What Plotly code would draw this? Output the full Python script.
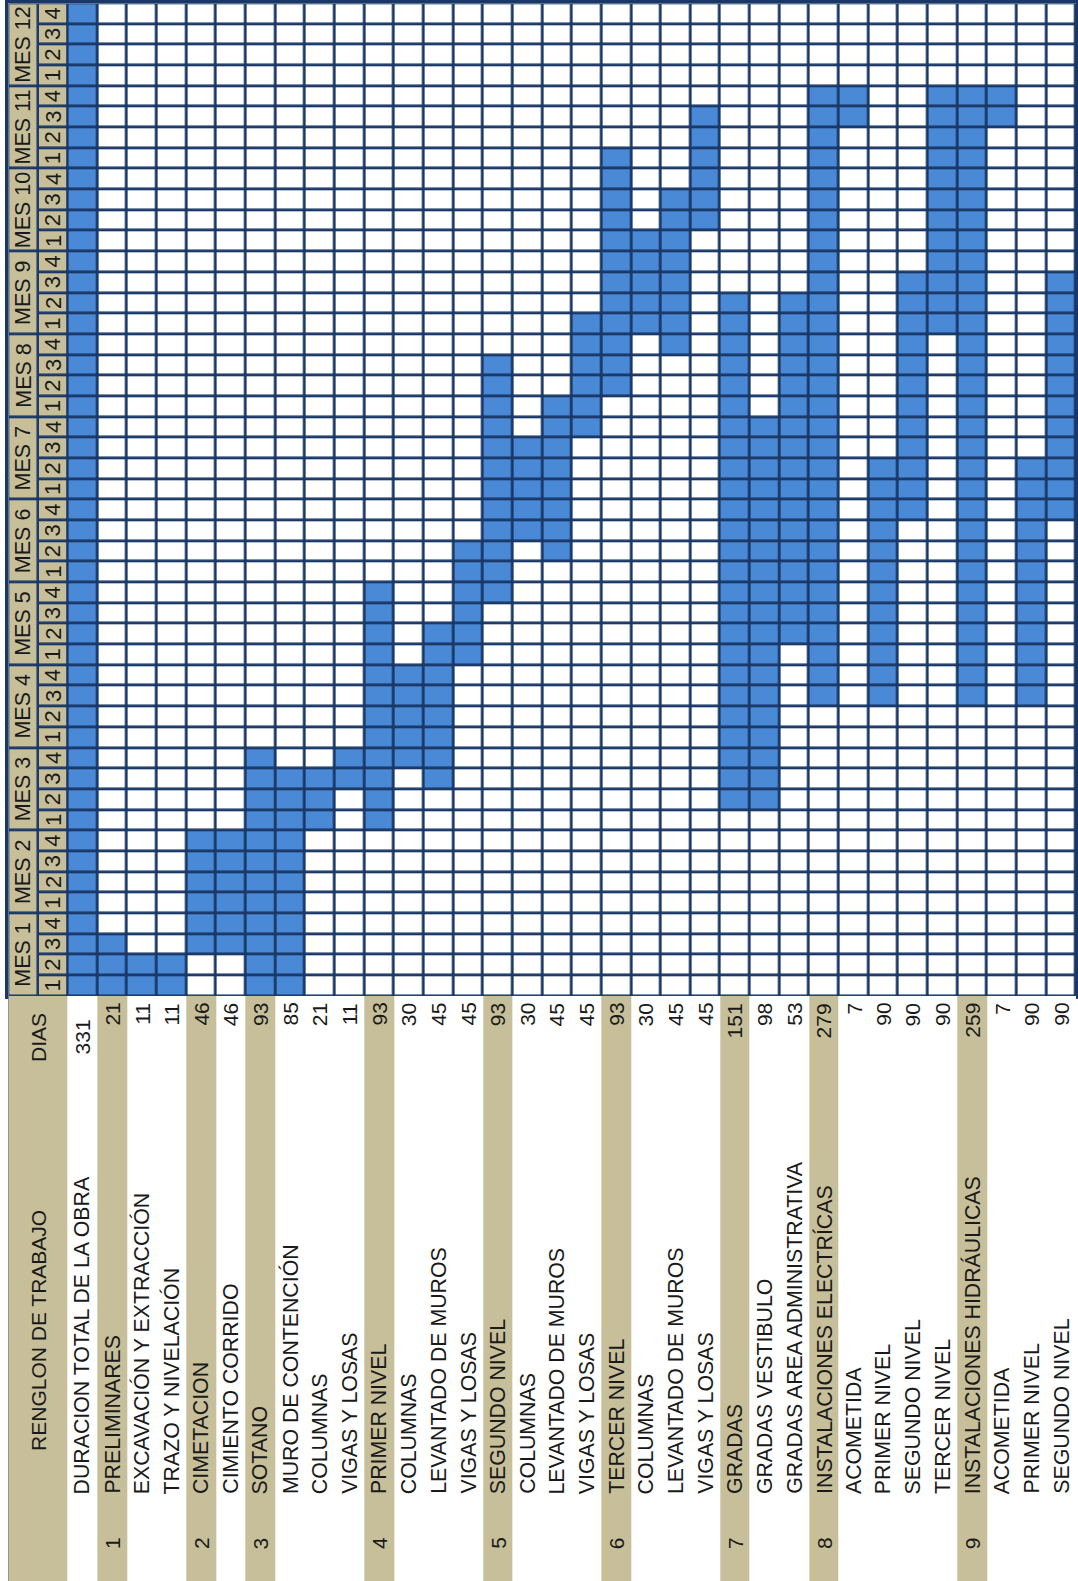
import plotly.graph_objects as go

# rows of the schedule (left to right once the table is turned)
tasks = [
    "DURACION TOTAL DE LA OBRA",
    "PRELIMINARES", "EXCAVACIÓN Y EXTRACCIÓN", "TRAZO Y NIVELACIÓN",
    "CIMETACION", "CIMIENTO CORRIDO",
    "SOTANO", "MURO DE CONTENCIÓN", "COLUMNAS", "VIGAS Y LOSAS",
    "PRIMER NIVEL", "COLUMNAS", "LEVANTADO DE MUROS", "VIGAS Y LOSAS",
    "SEGUNDO NIVEL", "COLUMNAS", "LEVANTADO DE MUROS", "VIGAS Y LOSAS",
    "TERCER NIVEL", "COLUMNAS", "LEVANTADO DE MUROS", "VIGAS Y LOSAS",
    "GRADAS", "GRADAS VESTIBULO", "GRADAS AREA ADMINISTRATIVA",
    "INSTALACIONES ELECTRÍCAS", "ACOMETIDA", "PRIMER NIVEL", "SEGUNDO NIVEL", "TERCER NIVEL",
    "INSTALACIONES HIDRÁULICAS", "ACOMETIDA", "PRIMER NIVEL", "SEGUNDO NIVEL",
]
group_num = ["", "1", "", "", "2", "", "3", "", "", "", "4", "", "", "", "5", "", "", "",
             "6", "", "", "", "7", "", "", "8", "", "", "", "", "9", "", "", ""]
dias = [331, 21, 11, 11, 46, 46, 93, 85, 21, 11, 93, 30, 45, 45, 93, 30, 45, 45,
        93, 30, 45, 45, 151, 98, 53, 279, 7, 90, 90, 90, 259, 7, 90, 90]
start_week = [1, 1, 1, 1, 3, 3, 1, 1, 9, 11, 9, 12, 11, 17, 20, 23, 22, 28,
              30, 33, 32, 38, 10, 10, 18, 15, 43, 15, 24, 33, 15, 43, 15, 24]
end_week = [48, 3, 2, 2, 8, 8, 12, 11, 11, 12, 20, 16, 18, 22, 31, 27, 29, 33,
            41, 37, 39, 43, 34, 28, 34, 44, 44, 26, 35, 44, 44, 44, 26, 35]
months = [f"MES {m}" for m in range(1, 13)]
week_labels = ["1", "2", "3", "4"]

BLUE = "#4a89d6"
NAVY = "#1a3867"
TAN = "#c6bf99"
TXT = "#1a1a1a"
FONT = "Liberation Sans, Arial, sans-serif"

W, H = 1078, 1581
x_left, x_right = 8.3, 1076
y_top, y_mid = 3.3, 996
low_h = H - y_mid

n_weeks = 4 * len(months)
weeks = list(range(1, n_weeks + 1))
z = [[1 if s <= w <= e else 0 for s, e in zip(start_week, end_week)] for w in weeks]

fig = go.Figure()
fig.add_trace(go.Heatmap(
    x=list(range(len(tasks))), y=weeks, z=z, zmin=0, zmax=1,
    colorscale=[[0, "white"], [1, BLUE]], showscale=False,
    xgap=2.8, ygap=2.8, hoverinfo="skip",
))
# week number column
fig.add_trace(go.Heatmap(
    x=[-1.5, -0.5], y=weeks, z=[[1] for _ in weeks],
    colorscale=[[0, TAN], [1, TAN]], showscale=False,
    xgap=2.8, ygap=2.8, hoverinfo="skip",
))
# month column
fig.add_trace(go.Heatmap(
    x=[-2.5, -1.5], y=[0.5 + 4 * i for i in range(len(months) + 1)], z=[[1] for _ in months],
    colorscale=[[0, TAN], [1, TAN]], showscale=False,
    xgap=2.8, ygap=2.8, hoverinfo="skip",
))
# label area: header column + shaded group rows
low_z = [[1] + [1 if g else 0 for g in group_num]]
fig.add_trace(go.Heatmap(
    x=[-2.5] + [i - 0.5 for i in range(len(tasks) + 1)], y=[0, low_h], z=low_z, zmin=0, zmax=1,
    colorscale=[[0, "white"], [1, TAN]], showscale=False,
    xaxis="x", yaxis="y2", hoverinfo="skip",
))

ann = []
for i, m in enumerate(months):
    ann.append(dict(x=-2, y=4 * i + 2.5, xref="x", yref="y", text=m, textangle=-90,
                    showarrow=False, font=dict(size=21.5, color=TXT, family=FONT)))
for w in weeks:
    ann.append(dict(x=-1, y=w, xref="x", yref="y", text=week_labels[(w - 1) % 4], textangle=-90,
                    showarrow=False, font=dict(size=22, color=TXT, family=FONT)))

ann.append(dict(x=-1.5, y=334, xref="x", yref="y2", text="RENGLON DE TRABAJO", textangle=-90,
                showarrow=False, font=dict(size=21, color=TXT, family=FONT)))
ann.append(dict(x=-1.5, y=41, xref="x", yref="y2", text="DIAS", textangle=-90,
                showarrow=False, font=dict(size=21, color=TXT, family=FONT)))

for c, (label, d, g) in enumerate(zip(tasks, dias, group_num)):
    ann.append(dict(x=c, y=500, xref="x", yref="y2", text=label, textangle=-90, yanchor="bottom",
                    showarrow=False, font=dict(size=21.3, color=TXT, family=FONT)))
    if c == 0:
        ann.append(dict(x=c, y=41, xref="x", yref="y2", text=str(d), textangle=-90,
                        showarrow=False, font=dict(size=21, color=TXT, family=FONT)))
    else:
        ann.append(dict(x=c, y=5, xref="x", yref="y2", text=str(d), textangle=-90, yanchor="top",
                        showarrow=False, font=dict(size=21, color=TXT, family=FONT)))
    if g:
        ann.append(dict(x=c, y=547, xref="x", yref="y2", text=g, textangle=-90,
                        showarrow=False, font=dict(size=21, color=TXT, family=FONT)))

fig.update_layout(
    width=W, height=H,
    margin=dict(l=0, r=0, t=0, b=0),
    paper_bgcolor="white",
    plot_bgcolor=NAVY,
    showlegend=False,
    annotations=ann,
    xaxis=dict(domain=[x_left / W, x_right / W], range=[-2.5, len(tasks) - 0.5],
               showgrid=False, zeroline=False, showticklabels=False, ticks="",
               showline=True, linecolor=NAVY, linewidth=3, mirror=True, anchor="y"),
    yaxis=dict(domain=[1 - y_mid / H, 1 - y_top / H], range=[0.5, n_weeks + 0.5],
               showgrid=False, zeroline=False, showticklabels=False, ticks="",
               showline=True, linecolor=NAVY, linewidth=3, mirror=True, anchor="x"),
    yaxis2=dict(domain=[0, 1 - y_mid / H], range=[low_h, 0], anchor="x",
                showgrid=False, zeroline=False, showticklabels=False, ticks=""),
)

fig.write_html(
    "out.html",
    config={"displayModeBar": False},
    post_script="document.body.style.margin='0';document.body.style.overflow='hidden';",
)
